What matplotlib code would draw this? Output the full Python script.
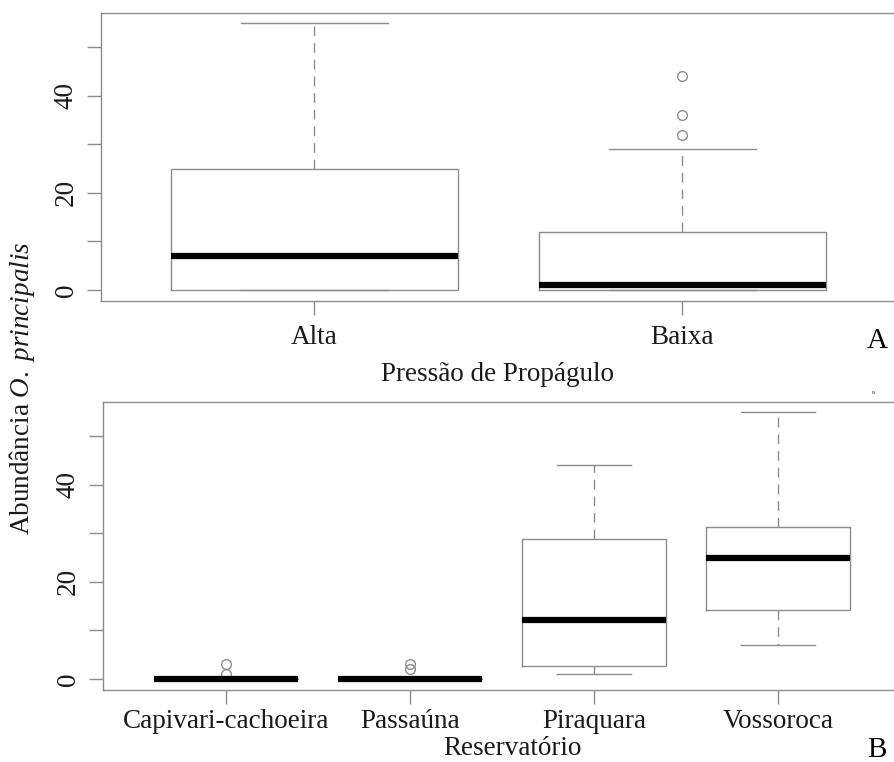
import numpy as np
import matplotlib
matplotlib.use("Agg")
from matplotlib import pyplot as plt

# Panel A: propagule pressure
groups_a = ["Alta", "Baixa"]
q1_a = [0, 0]
med_a = [7, 1]
q3_a = [25, 12]
lo_a = [0, 0]
hi_a = [55, 29]
fliers_a = [[], [32, 36, 44]]

# Panel B: reservoirs
groups_b = ["Capivari-cachoeira", "Passaúna", "Piraquara", "Vossoroca"]
q1_b = [0, 0, 2.7, 14.2]
med_b = [0, 0, 12.2, 25]
q3_b = [0, 0, 28.9, 31.4]
lo_b = [0, 0, 1, 7]
hi_b = [0, 0, 44, 55]
fliers_b = [[1, 3], [2, 3], [], []]

plt.rcParams['font.family'] = ['Liberation Serif', 'DejaVu Serif']
plt.rcParams['mathtext.fontset'] = 'custom'
plt.rcParams['mathtext.rm'] = 'Liberation Serif'
plt.rcParams['mathtext.it'] = 'Liberation Serif:italic'
GRAY = "#8c8c8c"
TXT = "#1a1a1a"


def make_stats(labels, q1, med, q3, lo, hi, fl):
    stats = []
    for i in range(len(labels)):
        stats.append({"label": labels[i], "q1": q1[i], "med": med[i], "q3": q3[i],
                      "whislo": lo[i], "whishi": hi[i], "fliers": fl[i]})
    return stats


def draw_panel(ax, stats, xlim, xlabel, xpad, lpad):
    ax.bxp(stats, positions=np.arange(1, len(stats) + 1), widths=0.78,
           showfliers=True,
           boxprops=dict(color=GRAY, linewidth=1.0),
           whiskerprops=dict(color=GRAY, linewidth=1.0, linestyle=(0, (7, 5))),
           capprops=dict(color=GRAY, linewidth=1.0),
           medianprops=dict(color="black", linewidth=4.5, solid_capstyle="butt"),
           flierprops=dict(marker="o", markerfacecolor="none", markeredgecolor=GRAY,
                           markersize=7, markeredgewidth=1.0),
           capwidths=0.4)
    ax.set_xlim(*xlim)
    ax.set_ylim(-2.3, 57.1)
    ax.set_yticks([0, 10, 20, 30, 40, 50])
    ax.set_yticklabels(["0", "", "20", "", "40", ""], rotation=90, va="center")
    for s in ["left", "top", "bottom"]:
        ax.spines[s].set_color(GRAY)
        ax.spines[s].set_linewidth(1.0)
    ax.spines["right"].set_visible(False)
    ax.tick_params(axis="both", length=10, width=1.0, color=GRAY, labelcolor=TXT,
                   labelsize=19.5)
    ax.tick_params(axis="x", pad=xpad)
    ax.tick_params(axis="y", pad=6)
    ax.set_xlabel(xlabel, fontsize=19.5, color=TXT, labelpad=lpad)


fig = plt.figure(figsize=(8.94, 7.62), dpi=100)
ax1 = fig.add_axes([0.113, 0.605, 0.887, 0.378])
ax2 = fig.add_axes([0.115, 0.0945, 0.885, 0.378])

draw_panel(ax1, make_stats(groups_a, q1_a, med_a, q3_a, lo_a, hi_a, fliers_a),
           (0.42, 2.575), "Pressão de Propágulo", 7, 9)
draw_panel(ax2, make_stats(groups_b, q1_b, med_b, q3_b, lo_b, hi_b, fliers_b),
           (0.332, 4.63), "Reservatório", 4, 2)
ax2.xaxis.set_label_coords(0.518, -0.16)
ax2.xaxis.label.set_va("top")

fig.text(0.025, 0.49, "Abundância $\\it{O.\\ principalis}$", rotation=90,
         ha="center", va="center", fontsize=19.5, color=TXT)
fig.text(0.981, 0.553, "A", ha="center", va="center", fontsize=21, color="black")
fig.text(0.981, 0.016, "B", ha="center", va="center", fontsize=21, color="black")
fig.text(0.977, 0.484, "B", ha="center", va="center", fontsize=3.5, color=TXT)

fig.savefig("out.png", dpi=100, facecolor="white")
